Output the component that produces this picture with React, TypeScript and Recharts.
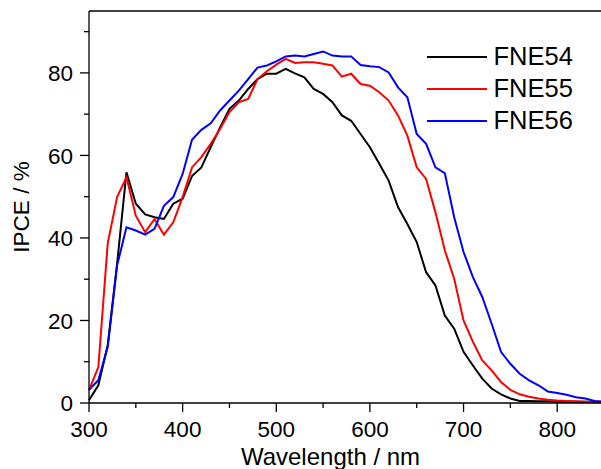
import React from "react";
import {
	Label,
	Legend,
	Line,
	LineChart,
	ReferenceLine,
	XAxis,
	YAxis,
} from "recharts";

// wavelength grid, nm
const wavelengths = [
	300, 310, 320, 330, 340, 350, 360, 370, 380, 390, 400, 410, 420, 430, 440,
	450, 460, 470, 480, 490, 500, 510, 520, 530, 540, 550, 560, 570, 580, 590,
	600, 610, 620, 630, 640, 650, 660, 670, 680, 690, 700, 710, 720, 730, 740,
	750, 760, 770, 780, 790, 800, 810, 820, 830, 840, 850,
];

// IPCE, %
const fne54 = [
	0.7, 4.3, 14, 33.7, 55.9, 48.3, 45.7, 45.0, 44.6, 48.3, 49.5, 55.0, 57.1,
	62.0, 66.8, 71.3, 73.3, 76.1, 78.5, 79.8, 79.8, 81.0, 79.9, 78.9, 76.1, 74.9,
	72.9, 69.7, 68.4, 65.2, 62.0, 58.0, 53.9, 47.5, 43.4, 39.0, 31.7, 28.5, 21.2,
	18.0, 12.4, 9.1, 5.9, 3.5, 2.1, 1.1, 0.5, 0.5, 0.4, 0.4, 0.3, 0.3, 0.3, 0.3,
	0.3, 0.3,
];
const fne55 = [
	3.1, 8.7, 38.7, 49.9, 54.7, 45.4, 41.4, 44.6, 40.8, 43.8, 49.9, 57.1, 59.6,
	62.8, 66.4, 70.5, 72.9, 73.7, 78.5, 80.4, 82.0, 83.4, 82.4, 82.6, 82.6, 82.2,
	81.8, 79.1, 79.8, 77.3, 76.9, 75.3, 73.3, 69.7, 64.8, 57.1, 54.3, 46.2, 37.0,
	30.1, 20.0, 14.8, 10.3, 7.9, 5.1, 3.2, 2.1, 1.5, 1.1, 0.8, 0.6, 0.5, 0.4, 0.3,
	0.2, 0.2,
];
const fne56 = [
	3.2, 5.5, 13.6, 33.3, 42.6, 41.8, 40.8, 42.2, 47.8, 49.9, 55.5, 63.8, 66.2,
	67.8, 70.9, 73.3, 75.7, 78.5, 81.3, 81.8, 82.8, 84.0, 84.2, 84.0, 84.6, 85.2,
	84.2, 84.0, 84.0, 81.9, 81.6, 81.4, 80.1, 76.5, 74.1, 65.2, 62.8, 57.1, 55.7,
	45.0, 36.6, 30.5, 25.7, 19.2, 12.4, 9.5, 7.1, 5.5, 4.3, 2.8, 2.4, 2.0, 1.4,
	1.1, 0.5, 0.3,
];

const xTicks = [300, 350, 400, 450, 500, 550, 600, 650, 700, 750, 800, 850];
const yTicks = [0, 10, 20, 30, 40, 50, 60, 70, 80, 90];

const series = [
	{ key: "fne54", name: "FNE54", color: "#000000" },
	{ key: "fne55", name: "FNE55", color: "#ff0000" },
	{ key: "fne56", name: "FNE56", color: "#0000ff" },
];

const data = wavelengths.map((w, i) => ({
	w,
	fne54: fne54[i],
	fne55: fne55[i],
	fne56: fne56[i],
}));

const MAJOR = 9;
const MINOR = 5;
const X_GAP = 9;
const Y_GAP = 7;
const FONT = "Arial, 'Liberation Sans', sans-serif";

function XTick(props: any) {
	const { x, y, payload } = props;
	const major = payload.value % 100 === 0;
	const y0 = y - X_GAP - MAJOR;
	return (
		<g>
			<line
				x1={x}
				x2={x}
				y1={y0}
				y2={y0 + (major ? MAJOR : MINOR)}
				stroke="#000"
				strokeWidth={1.3}
			/>
			{major && (
				<text
					x={x}
					y={y}
					dy="0.72em"
					textAnchor="middle"
					fontSize={22.5}
					fontFamily={FONT}
					fill="#000"
				>
					{payload.value}
				</text>
			)}
		</g>
	);
}

function YTick(props: any) {
	const { x, y, payload } = props;
	const major = payload.value % 20 === 0;
	const x0 = x + Y_GAP + MAJOR;
	return (
		<g>
			<line
				x1={x0 - (major ? MAJOR : MINOR)}
				x2={x0}
				y1={y}
				y2={y}
				stroke="#000"
				strokeWidth={1.3}
			/>
			{major && (
				<text
					x={x}
					y={y}
					dy="0.36em"
					textAnchor="end"
					fontSize={22.5}
					fontFamily={FONT}
					fill="#000"
				>
					{payload.value}
				</text>
			)}
		</g>
	);
}

function LegendBox() {
	return (
		<div style={{ fontFamily: FONT }}>
			{series.map((s) => (
				<div
					key={s.key}
					style={{
						display: "flex",
						alignItems: "center",
						height: 32,
						lineHeight: 1,
					}}
				>
					<svg width={60} height={4} style={{ display: "block" }}>
						<line x1={0} x2={60} y1={2} y2={2} stroke={s.color} strokeWidth={2} />
					</svg>
					<span style={{ marginLeft: 7, fontSize: 25.5, color: "#000" }}>
						{s.name}
					</span>
				</div>
			))}
		</div>
	);
}

export default function App() {
	return (
		<div
			style={{
				position: "absolute",
				left: 0,
				top: 0,
				width: 601,
				height: 469,
				overflow: "hidden",
				background: "#fff",
				fontFamily: FONT,
			}}
		>
			<LineChart
				width={620}
				height={490}
				data={data}
				margin={{ top: 11, right: 16, bottom: 0, left: 0 }}
			>
				<XAxis
					dataKey="w"
					type="number"
					domain={[300, 850]}
					ticks={xTicks}
					interval={0}
					height={87}
					tickSize={MAJOR}
					tickMargin={X_GAP}
					tickLine={false}
					tick={<XTick />}
					axisLine={{ stroke: "#000", strokeWidth: 1.3 }}
				>
					<Label
						value="Wavelength / nm"
						position="insideBottom"
						offset={25}
						dx={-16}
						fontSize={24}
						fontFamily={FONT}
						fill="#000"
					/>
				</XAxis>
				<YAxis
					type="number"
					domain={[0, 95]}
					ticks={yTicks}
					interval={0}
					width={89}
					tickSize={MAJOR}
					tickMargin={Y_GAP}
					tickLine={false}
					tick={<YTick />}
					axisLine={{ stroke: "#000", strokeWidth: 1.3 }}
				>
					<Label
						value="IPCE / %"
						angle={-90}
						position="center"
						dx={-23.5}
						fontSize={22.5}
						fontFamily={FONT}
						fill="#000"
					/>
				</YAxis>
				<ReferenceLine y={95} stroke="#000" strokeWidth={1.3} />
				<ReferenceLine x={850} stroke="#000" strokeWidth={1.3} />
				<Legend
					layout="vertical"
					align="center"
					verticalAlign="middle"
					content={<LegendBox />}
					wrapperStyle={{ left: 426.5, top: 40.7, width: "auto", height: "auto" }}
				/>
				{series.map((s) => (
					<Line
						key={s.key}
						type="linear"
						dataKey={s.key}
						name={s.name}
						stroke={s.color}
						strokeWidth={2}
						dot={false}
						activeDot={false}
						isAnimationActive={false}
					/>
				))}
			</LineChart>
		</div>
	);
}
